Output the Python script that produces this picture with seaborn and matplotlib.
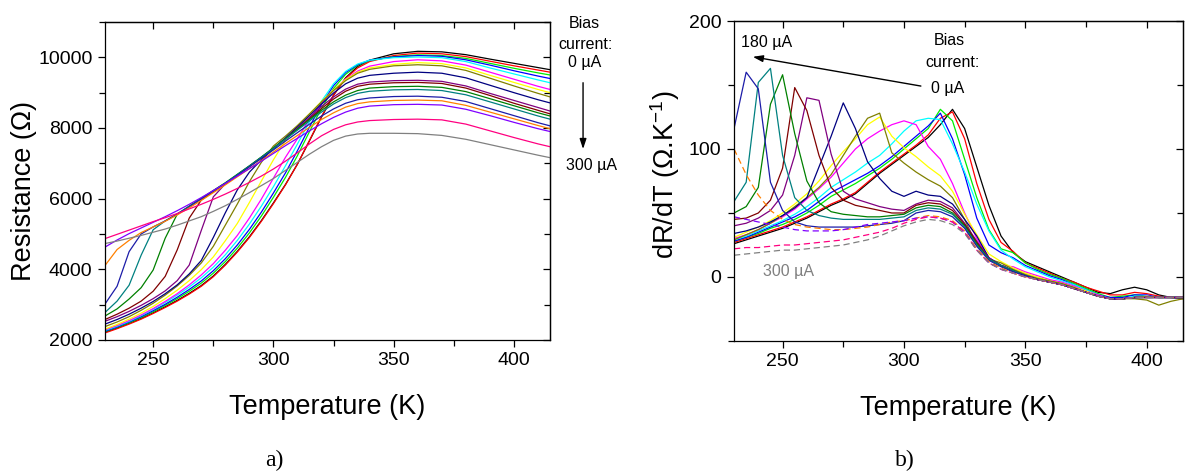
import pandas as pd
import matplotlib.pyplot as plt
import seaborn as sns
from matplotlib.ticker import MultipleLocator

# temperature grids (K) for panel a (resistance) and panel b (dR/dT)
temp_r = [230, 235, 240, 245, 250, 255, 260, 265, 270, 275, 280, 285, 290, 295, 300,
          305, 310, 315, 320, 325, 330, 335, 340, 350, 360, 370, 380, 390, 400, 410, 415]
temp_d = [230, 235, 240, 245, 250, 255, 260, 265, 270, 275, 280, 285, 290, 295, 300,
          305, 310, 315, 320, 325, 330, 335, 340, 345, 350, 355, 360, 365, 370, 375,
          380, 385, 390, 395, 400, 405, 410, 415]

# bias currents (uA); only 0, 180 and 300 are labelled, the steps between are estimated
bias_ua = [0, 20, 40, 50, 60, 80, 100, 110, 120, 140, 150, 160, 170, 180, 200, 220, 250, 300]
line_colors = ['#000000', '#ff0000', '#00ee00', '#0000ff', '#00ffff', '#ff00ff',
               '#ffff00', '#808000', '#000080', '#800080', '#800000', '#008000',
               '#008080', '#1c1ca8', '#ff8000', '#8000ff', '#ff0080', '#808080']
# panel b draws the four highest currents dashed
line_kinds = ['solid', 'solid', 'solid', 'solid', 'solid', 'solid', 'solid', 'solid', 'solid',
              'solid', 'solid', 'solid', 'solid', 'solid', 'dashed', 'dashed', 'dashed', 'dashed']

# resistance (Ohm)
R000 = [2220, 2340, 2470, 2610, 2770, 2940, 3120, 3320, 3540, 3810, 4140, 4510, 4920, 5380, 5880, 6400,
        6980, 7640, 8310, 8930, 9420, 9740, 9920, 10100, 10170, 10155, 10075, 9950, 9830, 9710, 9650]
R020 = [2200, 2320, 2450, 2590, 2750, 2920, 3100, 3300, 3520, 3790, 4120, 4490, 4900, 5360, 5860, 6390,
        6980, 7650, 8330, 8930, 9400, 9700, 9880, 10050, 10120, 10100, 10020, 9890, 9760, 9640, 9580]
R040 = [2240, 2360, 2490, 2640, 2800, 2980, 3170, 3380, 3610, 3890, 4220, 4600, 5030, 5510, 6040, 6600,
        7220, 7900, 8560, 9120, 9520, 9770, 9910, 10020, 10070, 10050, 9970, 9830, 9690, 9560, 9500]
R050 = [2250, 2370, 2510, 2660, 2830, 3010, 3210, 3430, 3670, 3960, 4300, 4690, 5130, 5620, 6160, 6730,
        7360, 8030, 8670, 9200, 9570, 9790, 9920, 10010, 10050, 10030, 9930, 9780, 9620, 9470, 9400]
R060 = [2270, 2390, 2530, 2690, 2870, 3060, 3270, 3500, 3760, 4060, 4410, 4820, 5280, 5790, 6340, 6930,
        7550, 8180, 8760, 9250, 9600, 9810, 9920, 9990, 10010, 9990, 9880, 9700, 9530, 9360, 9280]
R080 = [2290, 2410, 2550, 2710, 2890, 3090, 3310, 3560, 3840, 4160, 4540, 4960, 5450, 5990, 6580, 7170,
        7700, 8250, 8700, 9070, 9380, 9610, 9750, 9880, 9930, 9900, 9780, 9580, 9380, 9180, 9090]
R100 = [2310, 2440, 2590, 2760, 2950, 3170, 3410, 3680, 3990, 4350, 4810, 5300, 5890, 6500, 7100, 7650,
        8060, 8400, 8750, 9080, 9370, 9580, 9700, 9800, 9850, 9820, 9700, 9490, 9290, 9090, 9000]
R110 = [2380, 2510, 2660, 2840, 3040, 3270, 3530, 3830, 4180, 4650, 5250, 5850, 6480, 7030, 7490, 7770,
        8070, 8400, 8740, 9060, 9340, 9550, 9660, 9760, 9790, 9760, 9630, 9410, 9190, 8980, 8880]
R120 = [2450, 2580, 2730, 2900, 3090, 3310, 3560, 3870, 4250, 4900, 5600, 6250, 6750, 7100, 7420, 7720,
        8030, 8350, 8680, 8990, 9250, 9410, 9490, 9550, 9580, 9550, 9420, 9210, 9000, 8800, 8710]
R140 = [2530, 2660, 2810, 2980, 3170, 3390, 3680, 4120, 5100, 6050, 6420, 6670, 6920, 7170, 7430, 7700,
        7990, 8300, 8610, 8880, 9100, 9240, 9300, 9340, 9350, 9320, 9190, 8980, 8780, 8580, 8480]
R150 = [2580, 2730, 2900, 3100, 3380, 3800, 4550, 5450, 5960, 6200, 6430, 6670, 6910, 7160, 7420, 7690,
        7970, 8260, 8550, 8820, 9040, 9180, 9240, 9280, 9290, 9260, 9130, 8920, 8700, 8500, 8400]
R160 = [2680, 2880, 3160, 3480, 3980, 4880, 5560, 5790, 6010, 6230, 6450, 6690, 6930, 7180, 7440, 7700,
        7970, 8240, 8500, 8740, 8930, 9060, 9130, 9170, 9180, 9150, 9030, 8830, 8630, 8430, 8340]
R170 = [2780, 3100, 3550, 4400, 5120, 5370, 5570, 5780, 6000, 6220, 6440, 6680, 6920, 7170, 7420, 7680,
        7940, 8200, 8450, 8680, 8860, 8980, 9040, 9080, 9090, 9060, 8940, 8740, 8540, 8340, 8250]
R180 = [3020, 3520, 4500, 5000, 5200, 5370, 5560, 5770, 5990, 6210, 6430, 6660, 6900, 7140, 7380, 7630,
        7870, 8110, 8340, 8540, 8700, 8800, 8850, 8890, 8900, 8870, 8750, 8550, 8350, 8150, 8060]
R200 = [4110, 4560, 4820, 5040, 5200, 5360, 5540, 5740, 5950, 6170, 6390, 6620, 6850, 7080, 7320, 7560,
        7790, 8020, 8240, 8430, 8590, 8690, 8740, 8780, 8790, 8770, 8640, 8450, 8260, 8070, 7980]
R220 = [4630, 4830, 5010, 5170, 5330, 5490, 5660, 5840, 6030, 6230, 6430, 6640, 6850, 7060, 7280, 7500,
        7710, 7920, 8120, 8300, 8450, 8560, 8620, 8660, 8670, 8650, 8530, 8350, 8160, 7980, 7900]
R250 = [4870, 4990, 5110, 5230, 5350, 5460, 5580, 5710, 5840, 5980, 6130, 6290, 6460, 6640, 6840, 7060,
        7300, 7550, 7780, 7960, 8090, 8170, 8210, 8240, 8250, 8230, 8110, 7920, 7730, 7550, 7470]
R300 = [4730, 4800, 4880, 4960, 5050, 5140, 5250, 5370, 5490, 5640, 5800, 5980, 6170, 6370, 6570, 6800,
        7030, 7260, 7470, 7650, 7770, 7830, 7850, 7850, 7840, 7790, 7680, 7530, 7380, 7230, 7160]

# dR/dT (Ohm/K)
D000 = [26, 29, 32, 35, 38, 42, 46, 51, 56, 60, 65, 73, 81, 88, 95, 102, 109, 119, 131, 116,
        86, 56, 32, 19, 12, 8, 4, 0, -4, -8, -12, -13, -10, -8, -10, -14, -16, -17]
D020 = [27, 30, 33, 36, 39, 43, 47, 52, 57, 61, 66, 74, 82, 89, 96, 103, 111, 124, 129, 108,
        73, 45, 27, 20, 11, 7, 3, -1, -4, -8, -11, -14, -14, -12, -13, -15, -16, -16]
D040 = [28, 31, 34, 38, 41, 45, 50, 56, 63, 68, 73, 79, 85, 92, 100, 108, 116, 131, 122, 92,
        62, 37, 22, 19, 11, 6, 2, -1, -5, -9, -13, -16, -15, -14, -15, -16, -16, -16]
D050 = [28, 31, 35, 39, 43, 47, 52, 59, 66, 71, 76, 81, 87, 94, 102, 110, 118, 128, 108, 80,
        46, 25, 19, 15, 9, 5, 1, -2, -6, -10, -14, -16, -16, -14, -14, -16, -16, -16]
D060 = [29, 32, 36, 40, 44, 49, 55, 62, 70, 76, 82, 89, 95, 104, 114, 122, 124, 123, 104, 82,
        57, 36, 21, 14, 8, 4, 0, -3, -6, -10, -14, -17, -17, -15, -15, -16, -16, -16]
D080 = [30, 33, 37, 42, 47, 53, 61, 69, 78, 89, 100, 108, 114, 119, 122, 119, 102, 92, 73, 50,
        30, 15, 9, 8, 4, 1, -2, -4, -7, -11, -14, -17, -17, -16, -15, -16, -16, -16]
D100 = [31, 35, 39, 44, 50, 57, 65, 75, 87, 98, 108, 119, 125, 110, 101, 94, 86, 79, 67, 49,
        33, 18, 12, 7, 3, 0, -3, -5, -8, -11, -15, -17, -17, -16, -15, -16, -16, -16]
D110 = [29, 33, 37, 42, 48, 55, 62, 70, 80, 95, 110, 124, 128, 97, 89, 82, 76, 71, 62, 45,
        25, 14, 11, 6, 2, -1, -3, -5, -8, -12, -15, -17, -17, -17, -18, -22, -19, -17]
D120 = [34, 36, 39, 43, 48, 54, 62, 86, 110, 136, 116, 90, 77, 67, 63, 67, 64, 63, 57, 45,
        32, 15, 9, 5, 1, -2, -4, -6, -9, -12, -15, -17, -17, -16, -16, -16, -16, -16]
D140 = [40, 42, 46, 52, 64, 95, 140, 138, 96, 67, 61, 58, 55, 53, 52, 57, 60, 59, 54, 42,
        28, 15, 9, 5, 1, -2, -4, -6, -9, -12, -15, -17, -17, -16, -16, -16, -16, -16]
D150 = [45, 46, 50, 60, 85, 148, 130, 95, 70, 60, 56, 54, 52, 50, 50, 56, 58, 57, 52, 41,
        27, 14, 9, 5, 1, -2, -4, -6, -9, -12, -15, -17, -17, -16, -16, -16, -16, -16]
D160 = [50, 55, 70, 135, 158, 112, 75, 58, 51, 49, 48, 47, 47, 48, 49, 54, 56, 55, 50, 40,
        26, 14, 9, 5, 1, -2, -4, -6, -9, -12, -15, -17, -17, -16, -16, -16, -16, -16]
D170 = [59, 74, 152, 163, 95, 62, 52, 48, 46, 45, 45, 45, 45, 46, 47, 52, 54, 53, 49, 39,
        25, 14, 9, 5, 1, -2, -4, -6, -9, -12, -15, -17, -17, -16, -16, -16, -16, -16]
D180 = [116, 160, 147, 74, 52, 43, 40, 39, 39, 39, 39, 40, 41, 42, 44, 50, 52, 51, 47, 38,
        24, 13, 8, 4, 1, -2, -4, -6, -9, -12, -15, -17, -17, -16, -16, -16, -16, -16]
D200 = [100, 80, 64, 52, 45, 41, 39, 38, 37, 37, 38, 39, 41, 43, 44, 46, 48, 47, 44, 36,
        22, 12, 7, 3, 0, -2, -4, -6, -9, -12, -15, -17, -17, -16, -16, -16, -16, -16]
D220 = [47, 45, 43, 41, 39, 37, 36, 36, 36, 37, 39, 41, 42, 43, 44, 46, 47, 46, 43, 35,
        21, 11, 6, 3, 0, -2, -4, -6, -9, -12, -15, -17, -17, -16, -16, -16, -16, -16]
D250 = [22, 23, 23, 24, 25, 25, 26, 27, 28, 29, 31, 33, 35, 38, 42, 45, 47, 46, 43, 35,
        21, 11, 6, 3, 0, -2, -4, -6, -9, -12, -15, -17, -17, -16, -16, -16, -16, -16]
D300 = [17, 18, 19, 20, 21, 21, 22, 23, 24, 25, 27, 29, 32, 36, 40, 43, 45, 44, 41, 34,
        21, 11, 6, 3, 0, -2, -4, -6, -9, -12, -15, -17, -17, -16, -16, -16, -16, -16]

res_curves = [R000, R020, R040, R050, R060, R080, R100, R110, R120,
              R140, R150, R160, R170, R180, R200, R220, R250, R300]
deriv_curves = [D000, D020, D040, D050, D060, D080, D100, D110, D120,
                D140, D150, D160, D170, D180, D200, D220, D250, D300]


def long_table(temps, curves):
    rows = []
    for b, kind, vals in zip(bias_ua, line_kinds, curves):
        for t, v in zip(temps, vals):
            rows.append({'T': t, 'value': v, 'bias': f'{b} µA', 'kind': kind})
    return pd.DataFrame(rows)


sns.set_style('ticks', {'axes.edgecolor': 'black', 'xtick.color': 'black',
                        'ytick.color': 'black', 'text.color': 'black',
                        'axes.labelcolor': 'black'})
plt.rcParams['font.family'] = ['Liberation Sans', 'DejaVu Sans']
plt.rcParams['mathtext.fontset'] = 'custom'
plt.rcParams['mathtext.rm'] = 'Liberation Sans'
plt.rcParams['mathtext.it'] = 'Liberation Sans:italic'
plt.rcParams['axes.linewidth'] = 0.9

labels = [f'{b} µA' for b in bias_ua]
palette = dict(zip(labels, line_colors))
dash_map = {'solid': '', 'dashed': (5, 3)}

fig = plt.figure(figsize=(11.87, 4.73), dpi=100)
ax1 = fig.add_axes([0.0885, 0.2812, 0.3749, 0.6723])
ax2 = fig.add_axes([0.6184, 0.2791, 0.3783, 0.6765])

# panel a: all solid
sns.lineplot(data=long_table(temp_r, res_curves), x='T', y='value', hue='bias',
             hue_order=labels, palette=palette,
             estimator=None, legend=False, linewidth=0.9, ax=ax1)
# panel b: highest currents dashed
sns.lineplot(data=long_table(temp_d, deriv_curves), x='T', y='value', hue='bias',
             hue_order=labels, style='kind', dashes=dash_map, palette=palette,
             estimator=None, legend=False, linewidth=0.9, ax=ax2)


def style_axes(ax, ymaj, ymin):
    ax.xaxis.set_major_locator(MultipleLocator(50))
    ax.xaxis.set_minor_locator(MultipleLocator(25))
    ax.yaxis.set_major_locator(MultipleLocator(ymaj))
    ax.yaxis.set_minor_locator(MultipleLocator(ymin))
    ax.tick_params(which='both', direction='out', width=0.9, labelsize=14, pad=4)
    ax.tick_params(which='major', length=5)
    ax.tick_params(which='minor', length=4)
    # mirrored ticks pointing inward on top and right
    top = ax.secondary_xaxis('top')
    top.xaxis.set_major_locator(MultipleLocator(50))
    top.xaxis.set_minor_locator(MultipleLocator(25))
    top.tick_params(which='both', direction='in', width=0.9, labeltop=False)
    top.tick_params(which='major', length=5)
    top.tick_params(which='minor', length=4)
    right = ax.secondary_yaxis('right')
    right.yaxis.set_major_locator(MultipleLocator(ymaj))
    right.yaxis.set_minor_locator(MultipleLocator(ymin))
    right.tick_params(which='both', direction='in', width=0.9, labelright=False)
    right.tick_params(which='major', length=5)
    right.tick_params(which='minor', length=4)


ax1.set_xlim(230, 415)
ax1.set_ylim(2000, 11000)
style_axes(ax1, 2000, 1000)
ax1.set_xlabel('Temperature (K)', fontsize=19.5)
ax1.set_ylabel('Resistance (Ω)', fontsize=19.5)
ax1.xaxis.set_label_coords(0.5, -0.17)
ax1.yaxis.set_label_coords(-0.153, 0.47)

ax2.set_xlim(230, 415)
ax2.set_ylim(-50, 200)
style_axes(ax2, 100, 50)
ax2.set_xlabel('Temperature (K)', fontsize=19.5)
ax2.set_ylabel('dR/dT (Ω.K$^{-1}$)', fontsize=19.5)
ax2.xaxis.set_label_coords(0.5, -0.17)
ax2.yaxis.set_label_coords(-0.115, 0.52)

# panel a annotations (outside the axes, right side)
fig.text(0.492, 0.951, 'Bias', ha='center', va='center', fontsize=11.5)
fig.text(0.4937, 0.905, 'current:', ha='center', va='center', fontsize=11.5)
fig.text(0.4928, 0.867, '0 µA', ha='center', va='center', fontsize=11.5)
fig.text(0.4987, 0.651, '300 µA', ha='center', va='center', fontsize=11.5)
ax1.annotate('', xy=(0.4912, 0.679), xytext=(0.4912, 0.831), xycoords='figure fraction',
             textcoords='figure fraction', annotation_clip=False,
             arrowprops=dict(arrowstyle='-|>,head_length=0.6,head_width=0.2',
                             color='black', lw=1))

# panel b annotations
ax2.text(318.8, 185, 'Bias', ha='center', va='center', fontsize=11.5)
ax2.text(320.1, 167.7, 'current:', ha='center', va='center', fontsize=11.5)
ax2.text(311, 147.2, '0 µA', ha='left', va='center', fontsize=11.5)
ax2.text(243.2, 183.5, '180 µA', ha='center', va='center', fontsize=11.5)
ax2.text(252.3, 4, '300 µA', ha='center', va='center', fontsize=11.5, color='#808080')
ax2.annotate('', xy=(236.6, 172.4), xytext=(308.1, 148.8),
             arrowprops=dict(arrowstyle='-|>,head_length=0.6,head_width=0.2',
                             color='black', lw=1))

fig.text(0.2308, 0.027, 'a)', ha='center', va='center', fontsize=17, family='Liberation Serif')
fig.text(0.7624, 0.027, 'b)', ha='center', va='center', fontsize=17, family='Liberation Serif')

fig.savefig('out.png', dpi=100)
